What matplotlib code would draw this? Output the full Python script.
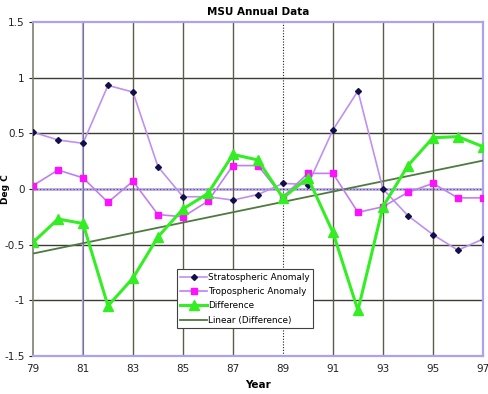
import matplotlib
matplotlib.use("Agg")
import matplotlib.pyplot as plt
import numpy as np

years = [79, 80, 81, 82, 83, 84, 85, 86, 87, 88, 89, 90, 91, 92, 93, 94, 95, 96, 97]
strato = [0.51, 0.44, 0.41, 0.93, 0.87, 0.20, -0.07, -0.07, -0.10, -0.05, 0.05, 0.04, 0.53, 0.88, 0.00, -0.24, -0.41, -0.55, -0.45]
tropo = [0.03, 0.17, 0.10, -0.12, 0.07, -0.23, -0.25, -0.11, 0.21, 0.21, -0.07, 0.14, 0.14, -0.21, -0.16, -0.03, 0.05, -0.08, -0.08]
diff = [-0.48, -0.27, -0.31, -1.05, -0.80, -0.43, -0.18, -0.04, 0.31, 0.26, -0.08, 0.10, -0.39, -1.09, -0.16, 0.21, 0.46, 0.47, 0.38]
xticks = [79, 81, 83, 85, 87, 89, 91, 93, 95, 97]
yticks = [-1.5, -1, -0.5, 0, 0.5, 1, 1.5]
ytick_labels = ["-1.5", "-1", "-0.5", "0", "0.5", "1", "1.5"]

fig = plt.figure(figsize=(4.88, 3.94), dpi=100)
ax = fig.add_axes([0.0676, 0.0964, 0.922, 0.848])
ax.set_xlim(79, 97)
ax.set_ylim(-1.5, 1.5)

# grid lines
for y in [1, 0.5, -0.5, -1]:
    ax.axhline(y, color="#3c3c34", lw=1.0, zorder=1)
ax.axhline(0, color="#b8a8f0", lw=2.0, zorder=1)
ax.axhline(0, color="#505050", lw=0.8, ls=(0, (1, 2)), zorder=1)
for x in [83, 85, 87, 91, 93, 95]:
    ax.axvline(x, color="#5c5c48", lw=1.0, zorder=1)
ax.axvline(81, color="#b0a0f0", lw=1.6, zorder=1)
ax.axvline(81, color="#707060", lw=0.6, zorder=1)
ax.axvline(89, color="#202020", lw=0.8, ls=(0, (1, 1.5)), zorder=1)

xs = np.array(years, dtype=float)
coef = np.polyfit(xs, np.array(diff), 1)
trend = np.polyval(coef, xs)

l1, = ax.plot(years, strato, color="#c090f0", lw=1.2, marker="D", ms=3,
              mfc="#10104a", mec="#10104a", zorder=4, label="Stratospheric Anomaly")
l2, = ax.plot(years, tropo, color="#c080f0", lw=1.2, marker="s", ms=4.5,
              mfc="#ff10ff", mec="#ff10ff", zorder=4, label="Tropospheric Anomaly")
l3, = ax.plot(years, diff, color="#33ee22", lw=2.2, marker="^", ms=7,
              mfc="#33ee22", mec="#33ee22", zorder=5, label="Difference")
l4, = ax.plot(years, trend, color="#4e7a40", lw=1.3, zorder=3, label="Linear (Difference)")

for s in ["top", "bottom", "right"]:
    ax.spines[s].set_color("#b0a0f0")
    ax.spines[s].set_linewidth(1.6)
ax.spines["left"].set_color("#808070")
ax.spines["left"].set_linewidth(1.2)

ax.set_xticks(xticks)
ax.set_xticklabels([str(t) for t in xticks])
ax.set_yticks(yticks)
ax.set_yticklabels(ytick_labels)
ax.tick_params(axis="both", labelsize=7.5, colors="#222222", length=3, pad=3)
ax.tick_params(axis="x", pad=6, length=0)

ax.set_title("MSU Annual Data", fontsize=7.5, fontweight="bold", pad=5)
ax.set_xlabel("Year", fontsize=7.5, fontweight="bold", labelpad=4)
ax.set_ylabel("Deg C", fontsize=6.5, fontweight="bold")
ax.yaxis.set_label_coords(-0.05, 0.5)

leg = ax.legend(handles=[l1, l2, l3, l4], loc="lower left",
                bbox_to_anchor=(0.31, 0.07), fontsize=6.4, frameon=True,
                fancybox=False, edgecolor="#404040", framealpha=1,
                handlelength=3.0, borderpad=0.4, labelspacing=0.6, handletextpad=0.1)
leg.get_frame().set_linewidth(0.8)
leg.set_zorder(6)

fig.savefig("out.png", dpi=100)
